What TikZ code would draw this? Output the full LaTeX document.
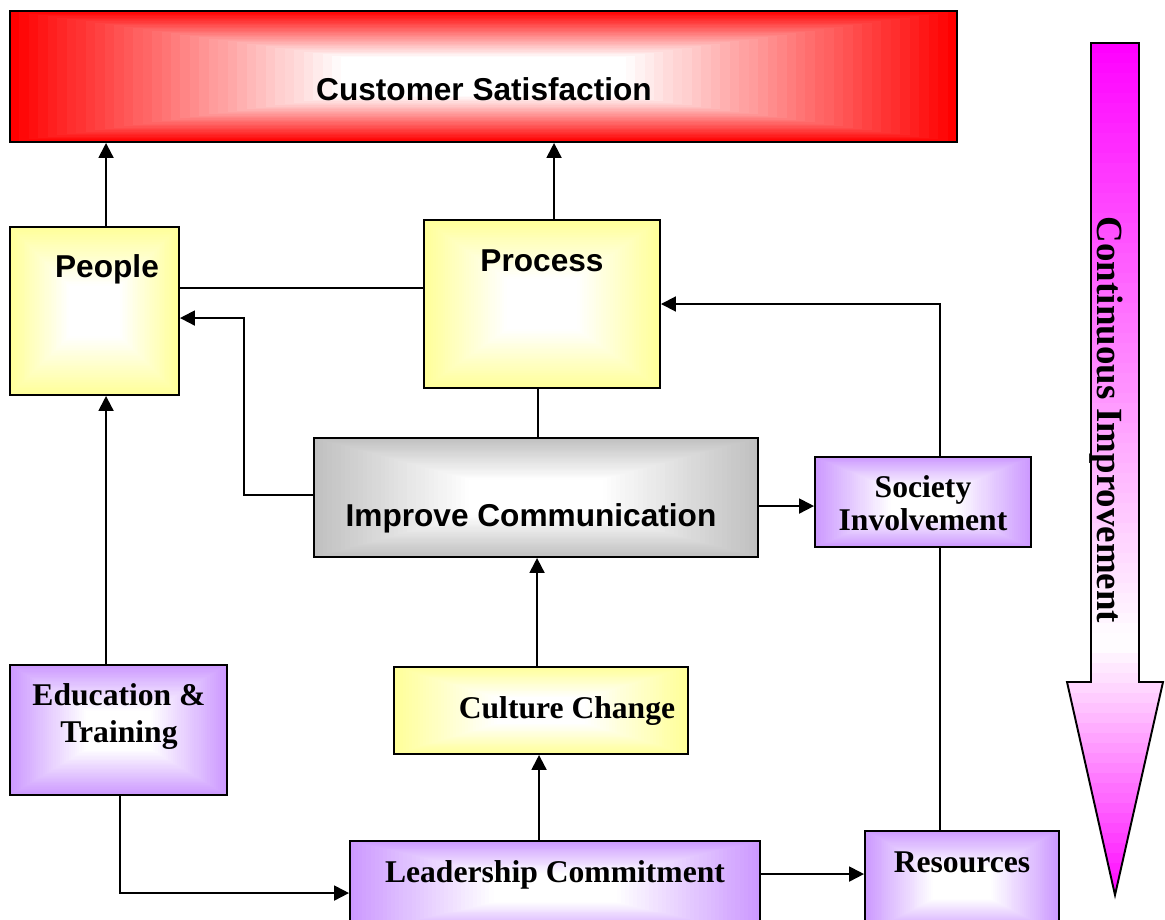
\documentclass[tikz,border=0pt]{standalone}
\usepackage{fontspec}
\setmainfont{Liberation Serif}
\newfontfamily\sansf{Liberation Sans}
\usetikzlibrary{arrows.meta}
\definecolor{cyel}{HTML}{FFFF99}
\definecolor{cpur}{HTML}{CC99FF}
\definecolor{cgray}{HTML}{C0C0C0}
\definecolor{cred}{HTML}{FF0000}
\definecolor{cmag}{HTML}{FF00FF}
\tikzset{
  box/.style={draw=black, line width=1.1pt, inner sep=0pt},
  conn/.style={line width=1.1pt, draw=black},
  arr/.style={conn, -{Triangle[length=8.5pt,width=8.5pt]}},
  sanslbl/.style={font=\sansf\bfseries\fontsize{18}{21}\selectfont, anchor=base, inner sep=0pt},
  seriflbl/.style={font=\bfseries\fontsize{18}{21}\selectfont, anchor=base, inner sep=0pt, align=center},
}
\newcommand\gradbox[6]{%
  \pgfmathsetmacro\gbcx{(#2+#4)/2}%
  \pgfmathsetmacro\gbcy{(#3+#5)/2}%
  \pgfmathsetmacro\gbhw{(#4-#2)/2}%
  \pgfmathsetmacro\gbhh{(#5-#3)/2}%
  \foreach \gbi in {0,...,49}{%
    \pgfmathsetmacro\gbs{1-\gbi/50}%
    \pgfmathtruncatemacro\gbp{max(0,min(100,(\gbs-0.3)/0.7*100))}%
    \fill[#6!\gbp!white] (\gbcx-\gbs*\gbhw,\gbcy-\gbs*\gbhh) rectangle (\gbcx+\gbs*\gbhw,\gbcy+\gbs*\gbhh);
  }%
  \pgfmathsetmacro\gbw{#4-#2}\pgfmathsetmacro\gbh{#5-#3}%
  \node[box, minimum width=\gbw*0.02cm, minimum height=\gbh*0.02cm] (#1) at (\gbcx,\gbcy) {};
}
\begin{document}
\begin{tikzpicture}[x=0.02cm,y=-0.02cm]
\useasboundingbox (0,0) rectangle (1165,919);
% boxes
\gradbox{cs}{10}{11}{957}{142}{cred}
\gradbox{pp}{10}{227}{179}{395}{cyel}
\gradbox{pr}{424}{220}{660}{388}{cyel}
\gradbox{ic}{314}{438}{758}{557}{cgray}
\gradbox{si}{815}{457}{1031}{547}{cpur}
\gradbox{et}{10}{665}{227}{795}{cpur}
\gradbox{cc}{394}{667}{688}{754}{cyel}
\gradbox{lc}{350}{841}{760}{935}{cpur}
\gradbox{rs}{865}{831}{1059}{935}{cpur}
% big arrow
\begin{scope}
\clip (1091,43) -- (1139,43) -- (1139,682) -- (1163,682) -- (1115,895) -- (1067,682) -- (1091,682) -- cycle;
\foreach \ay in {43,53,...,893}{%
  \pgfmathtruncatemacro\ap{ifthenelse(\ay<640,(640-\ay)/597*100,(\ay-640)/255*100)}%
  \fill[cmag!\ap!white] (1060,\ay) rectangle (1170,\ay+11);
}
\end{scope}
\draw[line width=1.1pt, line join=miter] (1091,43) -- (1139,43) -- (1139,682) -- (1163,682) -- (1115,895) -- (1067,682) -- (1091,682) -- cycle;
% labels
\node[sanslbl] (cstxt) at (484,100) {Customer Satisfaction};
\node[sanslbl] (pptxt) at (107,277) {People};
\node[sanslbl] (prtxt) at (542,271) {Process};
\node[sanslbl] (ictxt) at (531,526) {Improve Communication};
\node[seriflbl, font=\bfseries\fontsize{18}{18.7}\selectfont] (sitxt) at (923,530) {Society\\Involvement};
\node[seriflbl] (ettxt) at (119,742) {Education \&\\Training};
\node[seriflbl] (cctxt) at (567,718) {Culture Change};
\node[seriflbl] (lctxt) at (555,882) {Leadership Commitment};
\node[seriflbl] (rstxt) at (962,872) {Resources};
\node[rotate=-90, anchor=base, inner sep=0pt, font=\bfseries\fontsize{21}{24}\selectfont] (citxt) at (1097,420) {Continuous Improvement};
% connectors
\draw[arr] ([shift={(97,0)}]pp.north west) coordinate (a1) -- (a1 |- cs.south);
\draw[arr] ([shift={(131,0)}]pr.north west) coordinate (a2) -- (a2 |- cs.south);
\draw[conn] ([shift={(0,62)}]pp.north east) coordinate (a3) -- (a3 -| pr.west);
\draw[arr] ([shift={(0,58)}]ic.north west) -- ++(-69,0) |- ([shift={(0,92)}]pp.north east);
\draw[conn] ([shift={(115,0)}]pr.south west) coordinate (a5) -- (a5 |- ic.north);
\draw[arr] ([shift={(0,69)}]ic.north east) coordinate (a6) -- (a6 -| si.west);
\draw[conn] ([shift={(76,0)}]rs.north west) coordinate (a7) -- (a7 |- si.south);
\draw[arr] (a7 |- si.north) |- (pr.east);
\draw[arr] ([shift={(97,0)}]et.north west) coordinate (a9) -- (a9 |- pp.south);
\draw[arr] ([shift={(111,0)}]et.south west) |- ([shift={(0,53)}]lc.north west);
\draw[arr] ([shift={(190,0)}]lc.north west) coordinate (a11) -- (a11 |- cc.south);
\draw[arr] ([shift={(144,0)}]cc.north west) coordinate (a12) -- (a12 |- ic.south);
\draw[arr] ([shift={(0,34)}]lc.north east) coordinate (a13) -- (a13 -| rs.west);
\end{tikzpicture}
\end{document}
